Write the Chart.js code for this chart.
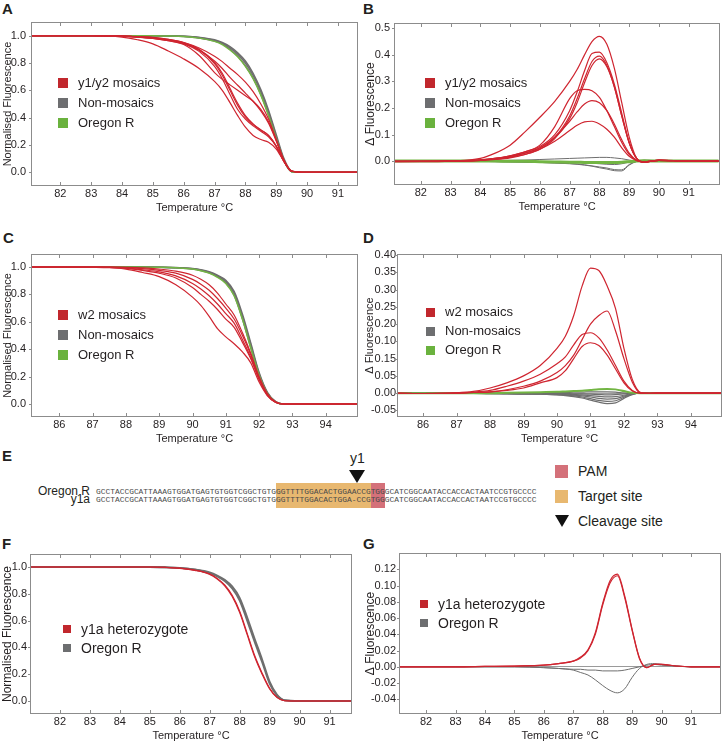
<!DOCTYPE html>
<html>
<head>
<meta charset="utf-8">
<script src="https://cdn.jsdelivr.net/npm/chart.js@4.4.1/dist/chart.umd.min.js"></script>
<style>
  body { margin: 0; background: #fff; font-family: "Liberation Sans", Arial, sans-serif; color: #231f20; }
  #page { position: relative; width: 726px; height: 743px; overflow: hidden; }
  .box { position: absolute; }
  .letter { position: absolute; font-weight: bold; font-size: 15px; line-height: 15px; }
  .leg { position: absolute; white-space: nowrap; }
  .leg i { position: absolute; left: 0; }
  .seq { position: absolute; left: 96px; font-family: "Liberation Mono", monospace; font-size: 7.9px; line-height: 8px; color: #4a4a4a; white-space: pre; }
  .seqlab { position: absolute; right: 636px; font-size: 12px; line-height: 12px; text-align: right; }
</style>
</head>
<body>
<div id="page">
  <div class="letter" style="left:2px;top:1px">A</div>
  <div class="letter" style="left:363px;top:1px">B</div>
  <div class="letter" style="left:3px;top:230px">C</div>
  <div class="letter" style="left:363px;top:230px">D</div>
  <div class="letter" style="left:2px;top:448px">E</div>
  <div class="letter" style="left:2px;top:536px">F</div>
  <div class="letter" style="left:363px;top:536px">G</div>

  <div class="box" style="left:0;top:0"><canvas id="chartA" width="363" height="216"></canvas></div>
  <div class="box" style="left:363px;top:0"><canvas id="chartB" width="363" height="216"></canvas></div>
  <div class="box" style="left:0;top:232px"><canvas id="chartC" width="363" height="216"></canvas></div>
  <div class="box" style="left:363px;top:232px"><canvas id="chartD" width="363" height="216"></canvas></div>
  <div class="box" style="left:0;top:530px"><canvas id="chartF" width="363" height="213"></canvas></div>
  <div class="box" style="left:363px;top:530px"><canvas id="chartG" width="363" height="213"></canvas></div>

  <!-- panel E: sequence alignment -->
  <div class="box" style="left:276px;top:483px;width:95px;height:25px;background:#e8b870"></div>
  <div class="box" style="left:371px;top:483px;width:14px;height:25px;background:#d4717a"></div>
  <div class="box" style="left:349px;top:470px;width:0;height:0;border-left:8px solid transparent;border-right:8px solid transparent;border-top:13px solid #111"></div>
  <div class="box" style="left:350px;top:450px;font-size:14px;line-height:16px">y1</div>
  <div class="seqlab" style="top:485px">Oregon R</div>
  <div class="seqlab" style="top:493px">y1a</div>
  <div class="seq" style="top:488px">GCCTACCGCATTAAAGTGGATGAGTGTGGTCGGCTGTGGGTTTTGGACACTGGAACCGTGGGCATCGGCAATACCACCACTAATCCGTGCCCC</div>
  <div class="seq" style="top:496px">GCCTACCGCATTAAAGTGGATGAGTGTGGTCGGCTGTGGGTTTTGGACACTGGA-CCGTGGGCATCGGCAATACCACCACTAATCCGTGCCCC</div>
  <div class="box" style="left:555px;top:465px;width:13px;height:13px;background:#d4717a"></div>
  <div class="box" style="left:578px;top:463px;font-size:14px;line-height:16px">PAM</div>
  <div class="box" style="left:555px;top:490px;width:13px;height:13px;background:#e8b870"></div>
  <div class="box" style="left:578px;top:488px;font-size:14px;line-height:16px">Target site</div>
  <div class="box" style="left:555px;top:515px;width:0;height:0;border-left:7px solid transparent;border-right:7px solid transparent;border-top:12px solid #111"></div>
  <div class="box" style="left:578px;top:513px;font-size:14px;line-height:16px">Cleavage site</div>
</div>
<script>
// temperatures (°C) at which the curves were read
var tA = [81, 82, 83, 84, 84.5, 85, 85.5, 86, 86.5, 87, 87.25, 87.5, 87.75, 88, 88.25, 88.5, 88.75, 89, 89.25, 89.5, 90, 91, 92];
var tC = [85, 86, 87, 87.5, 88, 88.5, 89, 89.5, 90, 90.25, 90.5, 90.75, 91, 91.25, 91.5, 91.75, 92, 92.25, 92.5, 92.75, 93, 94, 95];
var tF = [81, 82, 83, 84, 85, 85.5, 86, 86.5, 87, 87.25, 87.5, 87.75, 88, 88.25, 88.5, 88.75, 89, 89.25, 89.5, 90, 91, 92];
var tG = [81, 82, 83, 84, 85, 86, 86.5, 87, 87.25, 87.5, 87.75, 88, 88.25, 88.5, 88.75, 89, 89.25, 89.5, 89.75, 90, 90.5, 91, 92];

// A - normalised melt curves, y1/y2
var mosaicA = [
  [1, 1, 1, 0.99, 0.97, 0.94, 0.888, 0.83, 0.76, 0.665, 0.6, 0.51, 0.415, 0.33, 0.27, 0.24, 0.22, 0.17, 0.08, 0.01, 0, 0, 0],
  [1, 1, 1, 0.995, 0.99, 0.98, 0.963, 0.94, 0.885, 0.775, 0.685, 0.57, 0.46, 0.39, 0.34, 0.3, 0.26, 0.19, 0.08, 0.01, 0, 0, 0],
  [1, 1, 1, 0.997, 0.992, 0.985, 0.968, 0.945, 0.895, 0.795, 0.71, 0.6, 0.49, 0.405, 0.35, 0.31, 0.27, 0.19, 0.08, 0.008, 0, 0, 0],
  [1, 1, 1, 0.997, 0.994, 0.988, 0.973, 0.95, 0.9, 0.805, 0.725, 0.615, 0.505, 0.415, 0.355, 0.31, 0.27, 0.192, 0.08, 0.008, 0, 0, 0],
  [1, 1, 1, 0.996, 0.99, 0.98, 0.963, 0.935, 0.855, 0.73, 0.68, 0.64, 0.6, 0.56, 0.52, 0.46, 0.37, 0.235, 0.088, 0.008, 0, 0, 0],
  [1, 1, 1, 0.996, 0.99, 0.982, 0.968, 0.945, 0.895, 0.815, 0.76, 0.695, 0.637, 0.58, 0.52, 0.45, 0.36, 0.23, 0.087, 0.008, 0, 0, 0],
  [1, 1, 1, 0.997, 0.992, 0.985, 0.973, 0.95, 0.91, 0.85, 0.81, 0.762, 0.715, 0.66, 0.59, 0.5, 0.39, 0.242, 0.088, 0.008, 0, 0, 0]
];
var nonMosaicA = [
  [1, 1, 1, 1, 1, 1, 0.998, 0.995, 0.985, 0.965, 0.945, 0.91, 0.865, 0.8, 0.71, 0.59, 0.44, 0.26, 0.09, 0.005, 0, 0, 0],
  [1, 1, 1, 1, 1, 1, 0.998, 0.994, 0.983, 0.96, 0.94, 0.9, 0.85, 0.78, 0.69, 0.57, 0.42, 0.25, 0.085, 0.005, 0, 0, 0],
  [1, 1, 1, 1, 1, 1, 0.999, 0.996, 0.988, 0.97, 0.95, 0.92, 0.875, 0.815, 0.725, 0.605, 0.455, 0.275, 0.1, 0.008, 0, 0, 0]
];
var oregonA = [1, 1, 1, 1, 1, 1, 0.998, 0.994, 0.982, 0.958, 0.935, 0.895, 0.845, 0.775, 0.685, 0.565, 0.415, 0.245, 0.085, 0.005, 0, 0, 0];

// B - difference curves, y1/y2
var mosaicB = [
  [-0.002, -0.002, 0, 0.01, 0.03, 0.06, 0.11, 0.165, 0.225, 0.3, 0.345, 0.4, 0.45, 0.47, 0.44, 0.35, 0.22, 0.09, 0.01, -0.005, 0.004, 0, 0],
  [-0.002, -0.001, 0, 0.005, 0.01, 0.02, 0.035, 0.055, 0.1, 0.19, 0.26, 0.34, 0.405, 0.41, 0.37, 0.29, 0.18, 0.07, 0.01, -0.005, 0.004, 0, 0],
  [-0.001, -0.001, 0, 0.003, 0.008, 0.015, 0.03, 0.05, 0.09, 0.17, 0.235, 0.31, 0.375, 0.395, 0.36, 0.28, 0.17, 0.07, 0.01, -0.003, 0.003, 0, 0],
  [-0.001, -0.001, 0, 0.003, 0.006, 0.012, 0.025, 0.045, 0.085, 0.16, 0.22, 0.295, 0.36, 0.385, 0.355, 0.28, 0.17, 0.068, 0.01, -0.003, 0.003, 0, 0],
  [-0.001, -0.001, 0, 0.004, 0.01, 0.02, 0.035, 0.06, 0.13, 0.235, 0.265, 0.27, 0.265, 0.24, 0.19, 0.13, 0.07, 0.025, 0.002, -0.003, 0.003, 0, 0],
  [-0.001, -0.001, 0, 0.004, 0.01, 0.018, 0.03, 0.05, 0.09, 0.15, 0.185, 0.215, 0.228, 0.22, 0.19, 0.14, 0.08, 0.03, 0.003, -0.003, 0.003, 0, 0],
  [-0.001, -0.001, 0, 0.003, 0.008, 0.015, 0.025, 0.045, 0.075, 0.115, 0.135, 0.148, 0.15, 0.14, 0.12, 0.09, 0.05, 0.018, 0.002, -0.003, 0.003, 0, 0]
];
var nonMosaicB = [
  [0, 0, 0, -0.001, -0.002, -0.003, -0.004, -0.005, -0.007, -0.01, -0.012, -0.015, -0.019, -0.025, -0.03, -0.036, -0.037, -0.015, -0.001, 0.003, 0.002, 0, 0],
  [0, 0, 0, -0.001, -0.002, -0.003, -0.004, -0.005, -0.007, -0.009, -0.011, -0.014, -0.018, -0.022, -0.026, -0.032, -0.033, -0.013, -0.001, 0.003, 0.002, 0, 0],
  [0, 0, 0, 0.001, 0.002, 0.003, 0.004, 0.006, 0.008, 0.01, 0.011, 0.012, 0.013, 0.014, 0.014, 0.012, 0.009, 0.004, 0, -0.002, 0.001, 0, 0],
  [0, 0, 0, 0, -0.001, -0.001, -0.002, -0.003, -0.004, -0.005, -0.006, -0.007, -0.008, -0.01, -0.012, -0.013, -0.01, -0.004, 0, 0.002, 0.001, 0, 0]
];
var oregonB = [0, 0, 0, 0, 0, -0.001, -0.001, -0.002, -0.003, -0.004, -0.004, -0.005, -0.005, -0.005, -0.005, -0.005, -0.004, -0.002, 0, 0.001, 0, 0, 0];

// C - normalised melt curves, w2
var mosaicC = [
  [1, 1, 0.998, 0.995, 0.985, 0.96, 0.93, 0.87, 0.78, 0.72, 0.64, 0.55, 0.49, 0.44, 0.38, 0.3, 0.16, 0.06, 0.012, 0, 0, 0, 0],
  [1, 1, 0.999, 0.997, 0.99, 0.975, 0.955, 0.92, 0.85, 0.8, 0.75, 0.69, 0.62, 0.56, 0.45, 0.33, 0.18, 0.065, 0.012, 0, 0, 0, 0],
  [1, 1, 0.999, 0.998, 0.993, 0.98, 0.965, 0.935, 0.88, 0.84, 0.79, 0.73, 0.66, 0.59, 0.47, 0.34, 0.18, 0.065, 0.012, 0, 0, 0, 0],
  [1, 1, 1, 0.999, 0.995, 0.988, 0.975, 0.955, 0.91, 0.875, 0.83, 0.77, 0.7, 0.62, 0.5, 0.36, 0.19, 0.07, 0.013, 0, 0, 0, 0],
  [1, 1, 1, 0.999, 0.998, 0.994, 0.985, 0.97, 0.94, 0.91, 0.87, 0.81, 0.73, 0.65, 0.52, 0.37, 0.2, 0.075, 0.014, 0, 0, 0, 0]
];
var nonMosaicC = [
  [1, 1, 1, 1, 1, 1, 0.998, 0.995, 0.988, 0.978, 0.962, 0.935, 0.895, 0.81, 0.64, 0.43, 0.22, 0.08, 0.015, 0, 0, 0, 0],
  [1, 1, 1, 1, 1, 1, 0.998, 0.994, 0.986, 0.975, 0.958, 0.93, 0.885, 0.795, 0.62, 0.41, 0.21, 0.075, 0.013, 0, 0, 0, 0],
  [1, 1, 1, 1, 1, 1, 0.999, 0.996, 0.99, 0.981, 0.966, 0.94, 0.903, 0.822, 0.655, 0.445, 0.23, 0.085, 0.017, 0, 0, 0, 0]
];
var oregonC = [1, 1, 1, 1, 1, 1, 0.998, 0.994, 0.985, 0.973, 0.955, 0.925, 0.88, 0.79, 0.62, 0.41, 0.21, 0.075, 0.013, 0, 0, 0, 0];

// D - difference curves, w2
var mosaicD = [
  [0, -0.001, 0.001, 0.005, 0.015, 0.03, 0.05, 0.08, 0.13, 0.165, 0.225, 0.31, 0.362, 0.355, 0.31, 0.245, 0.13, 0.04, 0.002, -0.001, 0, 0, 0],
  [0, -0.001, 0, 0.002, 0.004, 0.01, 0.02, 0.035, 0.06, 0.08, 0.11, 0.155, 0.2, 0.225, 0.238, 0.18, 0.1, 0.032, 0, -0.001, 0, 0, 0],
  [0, -0.001, 0, 0.003, 0.008, 0.02, 0.035, 0.055, 0.085, 0.105, 0.14, 0.17, 0.175, 0.16, 0.125, 0.08, 0.035, 0.008, 0, 0, 0, 0, 0],
  [0, -0.001, 0, 0.002, 0.004, 0.008, 0.015, 0.03, 0.045, 0.065, 0.1, 0.135, 0.146, 0.138, 0.11, 0.07, 0.03, 0.006, 0, 0, 0, 0, 0]
];
var nonMosaicD = [
  [0, 0, -0.001, -0.001, -0.002, -0.002, -0.003, -0.003, -0.005, -0.007, -0.01, -0.014, -0.02, -0.026, -0.03, -0.028, -0.015, -0.004, 0, 0, 0, 0, 0],
  [0, 0, -0.001, -0.001, -0.001, -0.002, -0.002, -0.003, -0.004, -0.006, -0.008, -0.011, -0.016, -0.021, -0.024, -0.022, -0.012, -0.003, 0, 0, 0, 0, 0],
  [0, 0, 0, -0.001, -0.001, -0.001, -0.002, -0.002, -0.003, -0.004, -0.006, -0.008, -0.011, -0.015, -0.017, -0.016, -0.009, -0.002, 0, 0, 0, 0, 0],
  [0, 0, 0, 0, -0.001, -0.001, -0.001, -0.001, -0.002, -0.003, -0.004, -0.005, -0.007, -0.009, -0.011, -0.01, -0.006, -0.001, 0, 0, 0, 0, 0],
  [0, 0, 0, 0, 0, 0, 0, 0, -0.001, -0.001, -0.002, -0.002, -0.003, -0.004, -0.005, -0.004, -0.002, 0, 0, 0, 0, 0, 0],
  [0, 0, 0, 0, 0, 0, 0.001, 0.001, 0.002, 0.002, 0.003, 0.003, 0.004, 0.004, 0.004, 0.003, 0.001, 0, 0, 0, 0, 0, 0]
];
var oregonD = [0, 0, 0, 0, 0, 0.001, 0.002, 0.003, 0.004, 0.005, 0.006, 0.007, 0.009, 0.011, 0.012, 0.011, 0.006, 0.001, 0, 0, 0, 0, 0];

// F - normalised melt curves, y1a
var hetF = [
  [1, 1, 1, 1, 1, 0.997, 0.99, 0.975, 0.945, 0.91, 0.86, 0.78, 0.66, 0.495, 0.33, 0.2, 0.09, 0.025, 0.002, 0, 0, 0],
  [1, 1, 1, 1, 1, 0.997, 0.991, 0.977, 0.948, 0.915, 0.866, 0.788, 0.67, 0.505, 0.34, 0.208, 0.095, 0.027, 0.002, 0, 0, 0]
];
var oregonF = [
  [1, 1, 1, 1, 1, 0.998, 0.993, 0.98, 0.955, 0.93, 0.895, 0.84, 0.75, 0.6, 0.44, 0.29, 0.13, 0.04, 0.005, 0, 0, 0],
  [1, 1, 1, 1, 1, 0.998, 0.994, 0.982, 0.96, 0.937, 0.905, 0.855, 0.77, 0.625, 0.465, 0.31, 0.145, 0.047, 0.006, 0, 0, 0]
];

// G - difference curves, y1a
var hetG = [
  [0, 0, 0, 0.0005, 0.001, 0.002, 0.004, 0.007, 0.011, 0.02, 0.04, 0.076, 0.103, 0.112, 0.085, 0.045, 0.01, -0.001, 0.003, 0.003, 0.001, 0, 0],
  [0, 0, 0, 0.0005, 0.001, 0.002, 0.004, 0.007, 0.012, 0.021, 0.042, 0.078, 0.106, 0.114, 0.087, 0.046, 0.011, -0.001, 0.003, 0.003, 0.001, 0, 0]
];
var oregonG = [
  [0, 0, 0, 0, 0, -0.001, -0.002, -0.004, -0.007, -0.01, -0.016, -0.023, -0.029, -0.032, -0.027, -0.013, -0.002, 0.003, 0.004, 0.003, 0.001, 0, 0],
  [0, 0, 0, 0, 0, -0.001, -0.002, -0.003, -0.003, -0.004, -0.004, -0.005, -0.005, -0.005, -0.004, -0.002, 0, 0.002, 0.003, 0.002, 0.001, 0, 0]
];

// ticks
var xTicksAB = [82, 83, 84, 85, 86, 87, 88, 89, 90, 91];
var xTicksCD = [86, 87, 88, 89, 90, 91, 92, 93, 94];
var yTicksNorm = [0, 0.2, 0.4, 0.6, 0.8, 1.0];
var yLabelsNorm = ['0.0', '0.2', '0.4', '0.6', '0.8', '1.0'];
var yTicksB = [0, 0.1, 0.2, 0.3, 0.4, 0.5];
var yLabelsB = ['0.0', '0.1', '0.2', '0.3', '0.4', '0.5'];
var yTicksD = [-0.05, 0, 0.05, 0.1, 0.15, 0.2, 0.25, 0.3, 0.35, 0.4];
var yLabelsD = ['-0.05', '0.00', '0.05', '0.15', '0.10', '0.20', '0.25', '0.30', '0.35', '0.40'];
var yTicksG = [-0.04, -0.02, 0, 0.02, 0.04, 0.06, 0.08, 0.10, 0.12];
var yLabelsG = ['-0.04', '-0.02', '0.00', '0.02', '0.04', '0.06', '0.08', '0.10', '0.12'];

var RED = '#cf2530', GREY = '#6e6e6e', GREEN = '#72b543';

Chart.defaults.font.family = '"Liberation Sans", Arial, sans-serif';
Chart.defaults.font.size = 11;
Chart.defaults.color = '#231f20';

function line(xs, ys, color, width) {
  return {
    data: xs.map(function (x, i) { return { x: x, y: ys[i] }; }),
    borderColor: color,
    borderWidth: width,
    pointRadius: 0,
    fill: false,
    cubicInterpolationMode: 'monotone'
  };
}

// grey frame with small inward ticks
var framePlugin = {
  id: 'frame',
  afterDraw: function (chart) {
    var ctx = chart.ctx, a = chart.chartArea, sx = chart.scales.x, sy = chart.scales.y;
    ctx.save();
    ctx.strokeStyle = '#8c8c8c';
    ctx.lineWidth = 1;
    ctx.strokeRect(a.left + 0.5, a.top + 0.5, a.right - a.left - 1, a.bottom - a.top - 1);
    ctx.beginPath();
    sx.ticks.forEach(function (t) {
      var px = Math.round(sx.getPixelForValue(t.value)) + 0.5;
      ctx.moveTo(px, a.top); ctx.lineTo(px, a.top + 4);
      ctx.moveTo(px, a.bottom); ctx.lineTo(px, a.bottom - 4);
    });
    sy.ticks.forEach(function (t) {
      var py = Math.round(sy.getPixelForValue(t.value)) + 0.5;
      ctx.moveTo(a.left, py); ctx.lineTo(a.left - 2, py);
    });
    ctx.stroke();
    ctx.restore();
  }
};

function makeChart(id, o) {
  var datasets = [];
  o.red.forEach(function (ys) { datasets.push(line(o.t, ys, RED, 1.2)); });
  if (o.green) datasets.push(line(o.t, o.green, GREEN, o.greenWidth || 1.5));
  o.grey.forEach(function (ys) { datasets.push(line(o.t, ys, GREY, o.greyWidth || 1.3)); });

  new Chart(document.getElementById(id), {
    type: 'line',
    data: { datasets: datasets },
    plugins: [framePlugin],
    options: {
      responsive: false,
      animation: false,
      devicePixelRatio: 1,
      layout: { padding: { top: o.padTop, right: o.padRight, left: 0, bottom: 0 } },
      plugins: { legend: { display: false }, tooltip: { enabled: false } },
      scales: {
        x: {
          type: 'linear', min: o.xMin, max: o.xMax,
          afterBuildTicks: function (s) { s.ticks = o.xTicks.map(function (v) { return { value: v }; }); },
          afterFit: function (s) { s.height = o.xH; },
          ticks: { padding: 1, autoSkip: false, maxRotation: 0, callback: function (v) { return String(v); } },
          grid: { display: false, drawTicks: false },
          border: { display: false },
          title: { display: true, text: 'Temperature °C', font: { size: 11 }, padding: { top: 0, bottom: o.xTitlePad } }
        },
        y: {
          min: o.yMin, max: o.yMax,
          afterBuildTicks: function (s) { s.ticks = o.yTicks.map(function (v) { return { value: v }; }); },
          afterFit: function (s) { s.width = o.yW; },
          ticks: { padding: o.yPad, autoSkip: false, callback: function (v, i) { return o.yLabels[i]; } },
          grid: {
            display: !!o.zeroLine, drawTicks: false,
            color: function (c) { return c.tick && Math.abs(c.tick.value) < 1e-9 ? '#9a9a9a' : 'rgba(0,0,0,0)'; }
          },
          border: { display: false },
          title: { display: true, text: o.yTitle, font: { size: o.yTitleSize }, padding: { top: o.yTitlePad, bottom: 0 } }
        }
      }
    }
  });
}

makeChart('chartA', {
  t: tA, red: mosaicA, grey: nonMosaicA, green: oregonA, greyWidth: 1.5,
  xMin: 81.05, xMax: 91.65, xTicks: xTicksAB, yMin: -0.1, yMax: 1.1, yTicks: yTicksNorm, yLabels: yLabelsNorm,
  padTop: 22, padRight: 5, yW: 31, xH: 30, yPad: 5, xTitlePad: 1,
  yTitle: 'Normalised Fluorescence', yTitleSize: 11, yTitlePad: 1
});
makeChart('chartB', {
  t: tA, red: mosaicB, grey: nonMosaicB, green: oregonB, greenWidth: 3, greyWidth: 1,
  xMin: 81.1, xMax: 92.05, xTicks: xTicksAB, yMin: -0.09, yMax: 0.52, yTicks: yTicksB, yLabels: yLabelsB,
  padTop: 23, padRight: 6, yW: 31, xH: 31, yPad: 4, xTitlePad: 2, zeroLine: true,
  yTitle: 'Δ Fluorescence', yTitleSize: 12, yTitlePad: 0
});
makeChart('chartC', {
  t: tC, red: mosaicC, grey: nonMosaicC, green: oregonC, greyWidth: 1.5,
  xMin: 85.15, xMax: 94.97, xTicks: xTicksCD, yMin: -0.095, yMax: 1.095, yTicks: yTicksNorm, yLabels: yLabelsNorm,
  padTop: 22, padRight: 5, yW: 31, xH: 31, yPad: 5, xTitlePad: 2,
  yTitle: 'Normalised Fluorescence', yTitleSize: 11, yTitlePad: 1
});
makeChart('chartD', {
  t: tC, red: mosaicD, grey: nonMosaicD, green: oregonD, greenWidth: 2, greyWidth: 1.2,
  xMin: 85.22, xMax: 94.93, xTicks: xTicksCD, yMin: -0.069, yMax: 0.403, yTicks: yTicksD, yLabels: yLabelsD,
  padTop: 22, padRight: 4, yW: 34, xH: 31, yPad: 1, xTitlePad: 2, zeroLine: true,
  yTitle: 'Δ Fluorescence', yTitleSize: 11, yTitlePad: 0
});
makeChart('chartF', {
  t: tF, red: hetF, grey: oregonF, greyWidth: 1.8,
  xMin: 81.0, xMax: 91.75, xTicks: xTicksAB, yMin: -0.097, yMax: 1.097, yTicks: yTicksNorm, yLabels: yLabelsNorm,
  padTop: 24, padRight: 11, yW: 30, xH: 29, yPad: 3, xTitlePad: 0,
  yTitle: 'Normalised Fluorescence', yTitleSize: 12, yTitlePad: 0
});
makeChart('chartG', {
  t: tG, red: hetG, grey: oregonG, greyWidth: 1,
  xMin: 81.08, xMax: 92.02, xTicks: xTicksAB, yMin: -0.058, yMax: 0.14, yTicks: yTicksG, yLabels: yLabelsG,
  padTop: 23, padRight: 5, yW: 36, xH: 29, yPad: 3, xTitlePad: 0, zeroLine: true,
  yTitle: 'Δ Fluorescence', yTitleSize: 12, yTitlePad: 0
});

// in-plot legends
function legend(left, top, rowGap, size, sq, items) {
  var page = document.getElementById('page');
  items.forEach(function (it, i) {
    var row = document.createElement('div');
    row.className = 'leg';
    row.style.left = left + 'px';
    row.style.top = (top + i * rowGap - 8) + 'px';
    row.style.height = '16px';
    row.style.lineHeight = '16px';
    row.style.fontSize = size + 'px';
    row.style.paddingLeft = (sq + 10) + 'px';
    row.innerHTML = '<i style="top:' + (8 - sq / 2) + 'px;width:' + sq + 'px;height:' + sq + 'px;background:' + it[1] + '"></i>' + it[0];
    page.appendChild(row);
  });
}
var legRed = '#c1272d', legGrey = '#6d6e70', legGreen = '#6ab23e';
legend(58, 83, 20, 13, 10, [['y1/y2 mosaics', legRed], ['Non-mosaics', legGrey], ['Oregon R', legGreen]]);
legend(425, 83, 20, 13, 10, [['y1/y2 mosaics', legRed], ['Non-mosaics', legGrey], ['Oregon R', legGreen]]);
legend(58, 315, 20, 13, 10, [['w2 mosaics', legRed], ['Non-mosaics', legGrey], ['Oregon R', legGreen]]);
legend(426, 312, 19, 13, 9, [['w2 mosaics', legRed], ['Non-mosaics', legGrey], ['Oregon R', legGreen]]);
legend(63, 629, 19, 14, 8, [['y1a heterozygote', legRed], ['Oregon R', legGrey]]);
legend(420, 604, 19, 14, 8, [['y1a heterozygote', legRed], ['Oregon R', legGrey]]);
</script>
</body>
</html>
